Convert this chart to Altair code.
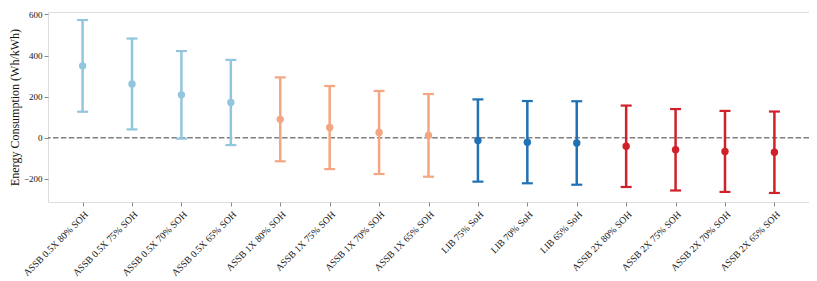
import altair as alt
import pandas as pd

labels = [
    "ASSB 0.5X 80% SOH", "ASSB 0.5X 75% SOH", "ASSB 0.5X 70% SOH", "ASSB 0.5X 65% SOH",
    "ASSB 1X 80% SOH", "ASSB 1X 75% SOH", "ASSB 1X 70% SOH", "ASSB 1X 65% SOH",
    "LIB 75% SoH", "LIB 70% SoH", "LIB 65% SoH",
    "ASSB 2X 80% SOH", "ASSB 2X 75% SOH", "ASSB 2X 70% SOH", "ASSB 2X 65% SOH",
]
groups = ["ASSB 0.5X"] * 4 + ["ASSB 1X"] * 4 + ["LIB"] * 3 + ["ASSB 2X"] * 4
means = [350, 262, 209, 172, 90, 50, 26, 12, -13, -21, -25, -41, -58, -66, -70]
errs = [223, 221, 213, 207, 204, 202, 202, 201, 200, 200, 203, 198, 198, 197, 198]

group_names = ["ASSB 0.5X", "ASSB 1X", "LIB", "ASSB 2X"]
group_colors = ["#92c5de", "#f4a582", "#2171b5", "#d0202a"]

df = pd.DataFrame({
    "label": labels,
    "group": groups,
    "mean": means,
    "lo": [m - e for m, e in zip(means, errs)],
    "hi": [m + e for m, e in zip(means, errs)],
})

FONT = "Liberation Serif"

xaxis = alt.Axis(labelAngle=-45, labelAlign="right", labelBaseline="top",
                 labelFontSize=9.6, labelPadding=3, tickSize=4,
                 tickColor="#888888", labelColor="#111111", domain=False,
                 labelFont=FONT)
xscale = alt.Scale(type="point", padding=0.7)
yscale = alt.Scale(domain=[-312, 612], nice=False, zero=False)
yaxis = alt.Axis(values=[-200, 0, 200, 400, 600], title="Energy Consumption (Wh/kWh)",
                 titleFont=FONT, titleFontSize=12, titleFontWeight="normal",
                 titleColor="#111111", titlePadding=2,
                 labelFont=FONT, labelFontSize=9, labelColor="#111111",
                 tickColor="#888888", tickSize=4, labelPadding=2, grid=False, domain=False)
color = alt.Color("group:N", scale=alt.Scale(domain=group_names, range=group_colors), legend=None)

x = alt.X("label:N", sort=labels, title=None, scale=xscale, axis=xaxis)

base = alt.Chart(df)

zero = alt.Chart(pd.DataFrame({"z": [0]})).mark_rule(
    color="#808080", strokeDash=[5.5, 2.4], strokeWidth=1.5
).encode(y=alt.Y("z:Q", scale=yscale, axis=yaxis))

bars = base.mark_rule(strokeWidth=2.5).encode(
    x=x, y=alt.Y("lo:Q", scale=yscale, axis=yaxis), y2="hi:Q", color=color)
cap_lo = base.mark_tick(size=11, thickness=2.2, opacity=1).encode(
    x=x, y=alt.Y("lo:Q", scale=yscale, axis=yaxis), color=color)
cap_hi = base.mark_tick(size=11, thickness=2.2, opacity=1).encode(
    x=x, y=alt.Y("hi:Q", scale=yscale, axis=yaxis), color=color)
pts = base.mark_circle(size=55, opacity=1).encode(
    x=x, y=alt.Y("mean:Q", scale=yscale, axis=yaxis), color=color)

chart = alt.layer(zero, bars, cap_lo, cap_hi, pts).properties(
    width=761, height=190,
    autosize=alt.AutoSizeParams(type="none"),
    padding={"left": 40, "top": 4, "right": 0, "bottom": 76},
).configure_view(stroke="#8c8c8c", strokeWidth=1.5).configure(background="white")

chart.save("out.html", embed_options={"renderer": "svg", "actions": False})
